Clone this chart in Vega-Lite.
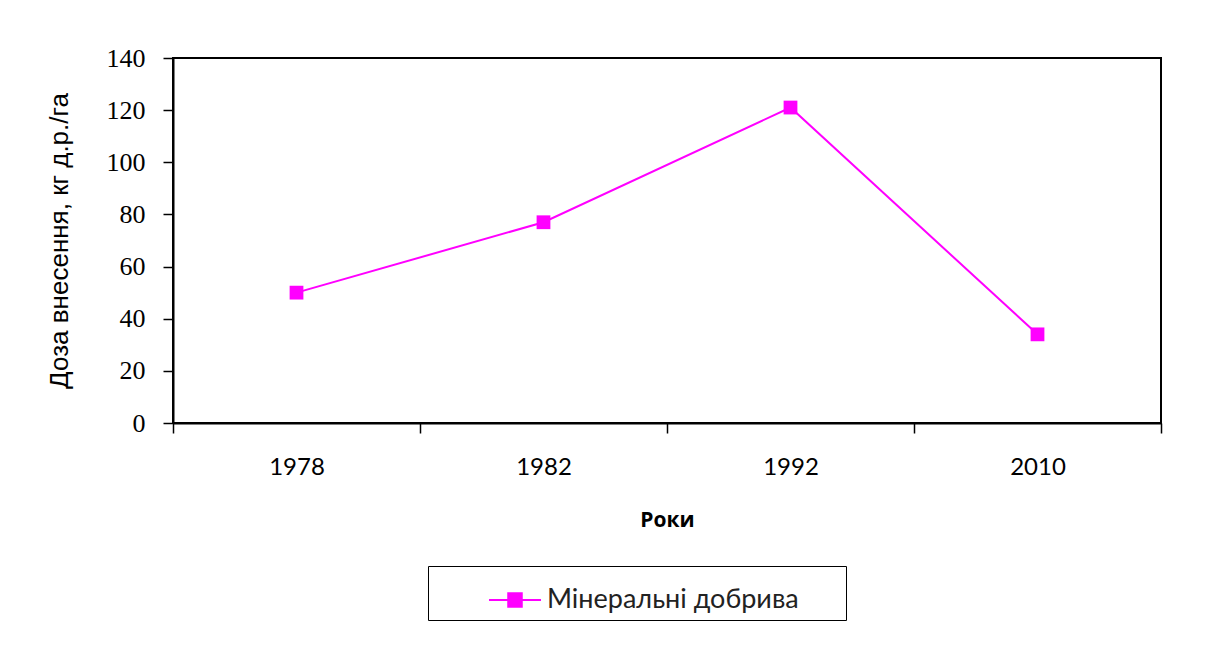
{
  "$schema": "https://vega.github.io/schema/vega-lite/v6.json",
  "width": 988,
  "height": 365,
  "autosize": {"type": "none"},
  "padding": {"left": 173, "top": 58, "right": 51, "bottom": 249},
  "background": "white",
  "config": {
    "view": {"stroke": "black", "strokeWidth": 2},
    "axis": {"domainColor": "black", "domainWidth": 2, "tickColor": "black", "tickWidth": 1.5, "tickSize": 10, "grid": false, "labelColor": "black", "titleColor": "black"}
  },
  "data": {
    "values": [
      {"year": "1978", "dose": 50, "series": "Мінеральні добрива"},
      {"year": "1982", "dose": 77, "series": "Мінеральні добрива"},
      {"year": "1992", "dose": 121, "series": "Мінеральні добрива"},
      {"year": "2010", "dose": 34, "series": "Мінеральні добрива"}
    ]
  },
  "encoding": {
    "x": {
      "field": "year", "type": "ordinal", "bandPosition": 0.5,
      "scale": {"type": "band", "paddingInner": 0, "paddingOuter": 0},
      "axis": {"title": "Роки", "labelAngle": 0, "tickBand": "extent", "labelFont": "Lato", "labelFontSize": 24, "labelPadding": 22, "titleFont": "Open Sans", "titleFontSize": 21, "titleFontWeight": "bold", "titlePadding": 30}
    },
    "y": {
      "field": "dose", "type": "quantitative",
      "scale": {"domain": [0, 140], "nice": false},
      "axis": {"title": "Доза внесення, кг д.р./га", "values": [0, 20, 40, 60, 80, 100, 120, 140], "labelFont": "Liberation Serif", "labelFontSize": 26, "labelPadding": 18, "titleFont": "Liberation Sans", "titleFontSize": 26, "titleFontWeight": "normal", "titlePadding": 34}
    },
    "color": {
      "field": "series", "type": "nominal",
      "scale": {"range": ["#FF00FF"]},
      "legend": {
        "title": null, "orient": "none", "legendX": 255, "legendY": 508,
        "strokeColor": "black", "padding": 7,
        "symbolType": "M-1,0H1M-0.26,-0.26H0.26V0.26H-0.26Z",
        "symbolSize": 2704, "symbolStrokeWidth": 2, "symbolFillColor": "#FF00FF", "symbolStrokeColor": "#FF00FF",
        "symbolOffset": 53, "labelOffset": 5, "labelLimit": 0,
        "labelFont": "Lato", "labelFontSize": 27, "labelColor": "#222222",
        "labelExpr": "datum.label + '\u2800\u2800'"
      }
    }
  },
  "layer": [
    {"mark": {"type": "line", "strokeWidth": 2}},
    {"mark": {"type": "point", "shape": "square", "filled": true, "size": 190, "opacity": 1}}
  ]
}
